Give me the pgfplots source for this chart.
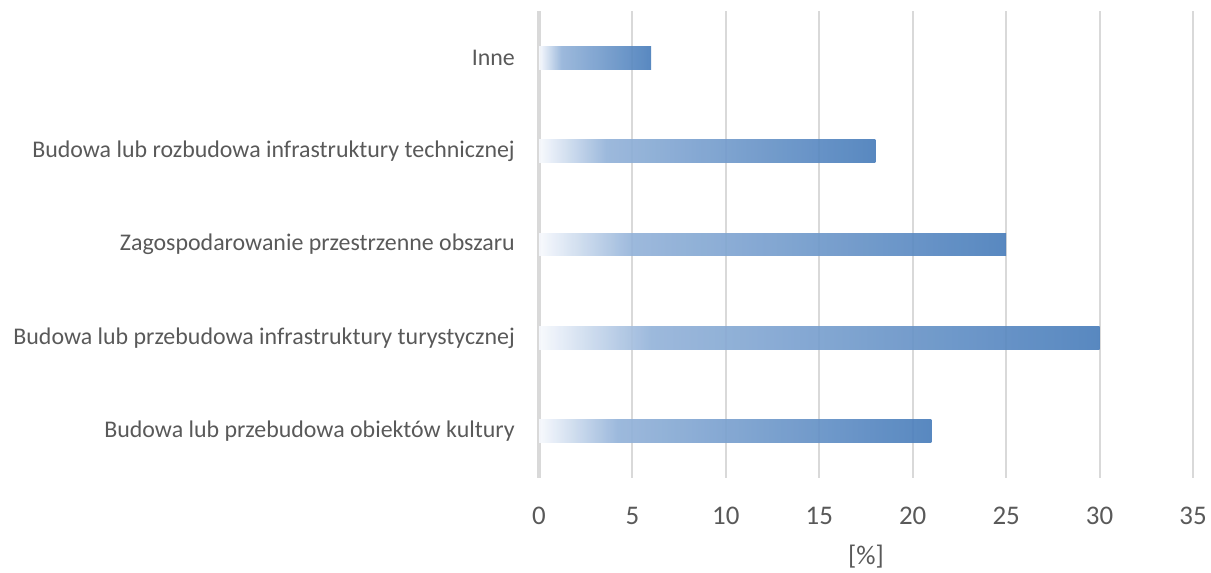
\documentclass[border=0pt]{standalone}
\usepackage{fontspec}
\setmainfont{Carlito}
\usepackage{pgfplots}
\pgfplotsset{compat=1.18}

\definecolor{txt}{HTML}{595959}
\definecolor{gridc}{HTML}{D9D9D9}
\definecolor{barA}{HTML}{F7F9FD}
\definecolor{barB}{HTML}{94B3D9}
\definecolor{barC}{HTML}{4A7EBB}
% gradient along each bar, white on the left to blue on the right
\pgfdeclarehorizontalshading{barshade}{100bp}{color(0bp)=(barA); color(25bp)=(barA); color(35bp)=(barB); color(75bp)=(barC); color(100bp)=(barC)}

\pgfplotsset{gbar/.style={draw=none, shade, shading=barshade, fill opacity=0.92, bar shift=0pt}}

\begin{document}
\begin{tikzpicture}
\path[use as bounding box] (0,0) rectangle (1211bp,573bp);
\begin{axis}[
    at={(539bp,95bp)}, anchor=south west,
    scale only axis, width=654bp, height=467bp,
    xbar, bar width=0.246,
    xmin=0, xmax=35, ymin=-0.5, ymax=4.5,
    xtick={5,10,...,35},
    extra x ticks={0},
    extra x tick style={grid style={gridc, line width=4bp}},
    ytick={0,...,4},
    yticklabels={Budowa lub przebudowa obiektów kultury,
                 Budowa lub przebudowa infrastruktury turystycznej,
                 Zagospodarowanie przestrzenne obszaru,
                 Budowa lub rozbudowa infrastruktury technicznej\ ,
                 Inne},
    axis line style={draw=none},
    major tick length=0pt,
    xmajorgrids,
    grid style={gridc, line width=2bp},
    /pgf/number format/assume math mode=true,
    tick label style={text=txt},
    yticklabel style={font=\fontsize{24}{28}\selectfont, inner sep=0pt, xshift=-24bp},
    xticklabel style={font=\fontsize{27}{31}\selectfont, inner sep=0pt, yshift=-29bp},
    xlabel={[\%]},
    xlabel style={at={(axis description cs:0.5,0)}, anchor=north, inner sep=0pt,
                  yshift=-67bp, text=txt, font=\fontsize{27}{31}\selectfont},
]
% one plot per bar, so that each bar gets its own gradient
\addplot[gbar] coordinates {(21,0)};
\addplot[gbar] coordinates {(30,1)};
\addplot[gbar] coordinates {(25,2)};
\addplot[gbar] coordinates {(18,3)};
\addplot[gbar] coordinates {(6,4)};
\end{axis}
\end{tikzpicture}
\end{document}
